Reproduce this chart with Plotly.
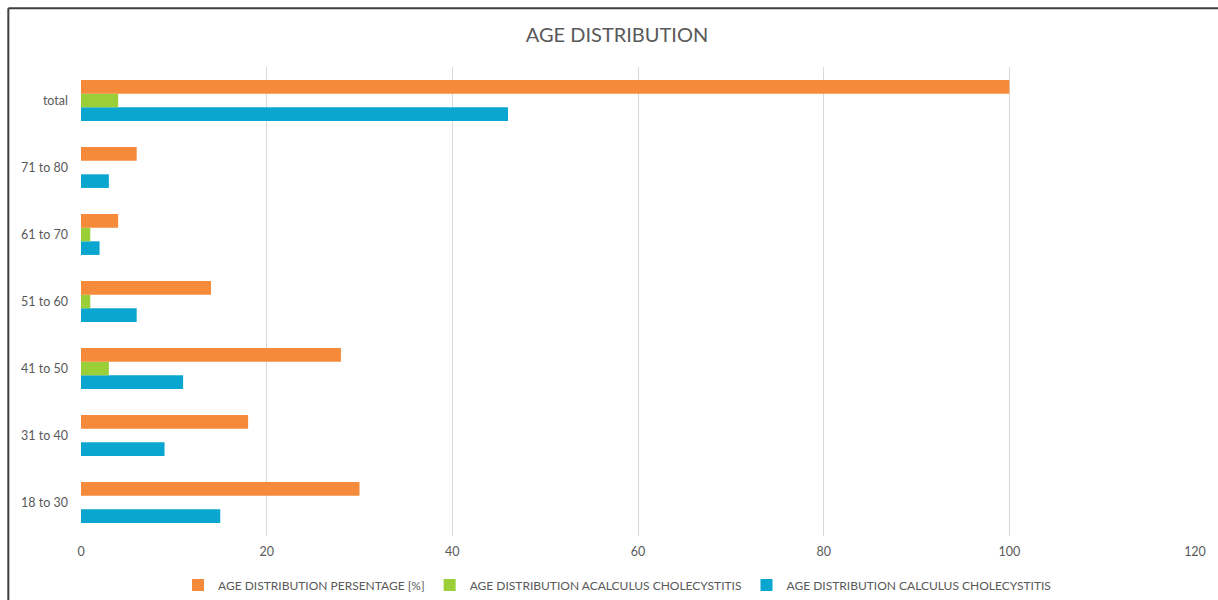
import plotly.graph_objects as go

# Age groups (bottom to top) and the three series
age_groups = ["18 to 30", "31 to 40", "41 to 50", "51 to 60", "61 to 70", "71 to 80", "total"]
percentage = [30, 18, 28, 14, 4, 6, 100]
acalculus = [0, 0, 3, 1, 1, 0, 4]
calculus = [15, 9, 11, 6, 2, 3, 46]
x_ticks = [0, 20, 40, 60, 80, 100, 120]

series_names = [
    "AGE DISTRIBUTION PERSENTAGE [%]",
    "AGE DISTRIBUTION ACALCULUS CHOLECYSTITIS",
    "AGE DISTRIBUTION CALCULUS CHOLECYSTITIS",
]
colors = ["#F58A3B", "#9BCF38", "#0BA6CF"]

W, H = 1218, 600
ML, MR, MT, MB = 81, 18, 67, 62
TEXT = "#595959"
FONT = "Lato, 'Open Sans', sans-serif"

fig = go.Figure()
# Added bottom-to-top within each group; legend order is reversed below
for name, vals, col in [
    (series_names[2], calculus, colors[2]),
    (series_names[1], acalculus, colors[1]),
    (series_names[0], percentage, colors[0]),
]:
    fig.add_trace(go.Bar(
        y=age_groups, x=vals, name=name, orientation="h",
        marker=dict(color=col, line=dict(width=0)),
    ))

plot_w = W - ML - MR
plot_h = H - MT - MB
frame_x = (8 - ML) / plot_w
frame_y = 1 + (MT - 8) / plot_h

fig.update_layout(
    width=W, height=H,
    margin=dict(l=ML, r=MR, t=MT, b=MB),
    paper_bgcolor="white", plot_bgcolor="white",
    barmode="group", bargap=0.39, bargroupgap=0,
    font=dict(family=FONT, color=TEXT, size=12),
    title=dict(text="AGE DISTRIBUTION", x=617 / W, xref="container", xanchor="center",
               y=1 - 35 / H, yref="container", yanchor="middle",
               font=dict(size=20, color=TEXT, family=FONT)),
    xaxis=dict(range=[0, 120], tickvals=x_ticks, showgrid=True, gridcolor="#D9D9D9",
               gridwidth=1, zeroline=False, showline=False, ticks="",
               tickfont=dict(size=12.5, color=TEXT), ticklabelstandoff=6),
    yaxis=dict(categoryorder="array", categoryarray=age_groups, showgrid=False,
               zeroline=False, showline=False, ticks="", range=[-0.5, 6.5],
               tickfont=dict(size=12.5, color=TEXT), ticklabelstandoff=12),
    legend=dict(orientation="h", traceorder="reversed", x=617 / W, xref="container",
                xanchor="center", y=1 - 585 / H, yref="container", yanchor="middle",
                font=dict(size=12, color=TEXT, family=FONT), itemwidth=30),
    shapes=[
        dict(type="line", xref="paper", yref="paper", x0=frame_x, x1=1.2, y0=frame_y, y1=frame_y,
             line=dict(color="#3F3F3F", width=2)),
        dict(type="line", xref="paper", yref="paper", x0=frame_x, x1=frame_x, y0=-0.2, y1=frame_y,
             line=dict(color="#3F3F3F", width=2)),
    ],
)

fig.write_html("out.html")
